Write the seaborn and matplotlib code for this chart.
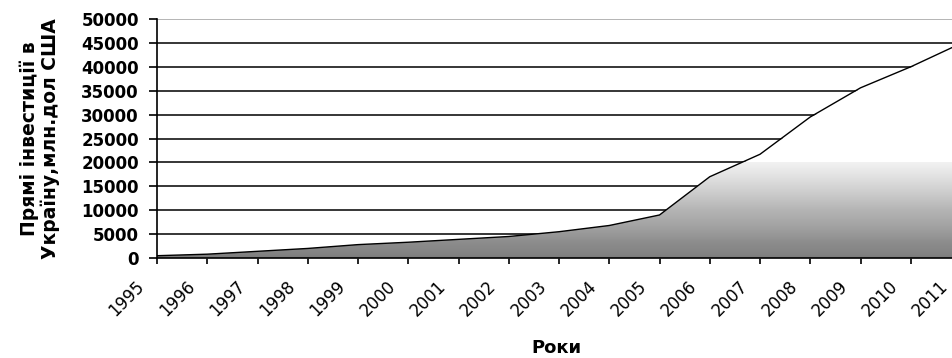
import numpy as np
import pandas as pd
import matplotlib
matplotlib.use("Agg")
import matplotlib.pyplot as plt
import matplotlib.transforms as mtransforms
import seaborn as sns
from matplotlib.colors import LinearSegmentedColormap

# дані (млн. дол США)
years = [1995, 1996, 1997, 1998, 1999, 2000, 2001, 2002, 2003,
         2004, 2005, 2006, 2007, 2008, 2009, 2010, 2011]
invest = [480, 800, 1400, 2000, 2800, 3300, 3900, 4500, 5500,
          6800, 9000, 17000, 21700, 29500, 35600, 40000, 44900]
y_ticks = list(range(0, 50001, 5000))
y_label = "Прямі інвестиції в\nУкраїну,млн.дол США"
x_label = "Роки"

df = pd.DataFrame({"year": years, "invest": invest})

sns.set_style("white")
plt.rcParams["font.family"] = ["DejaVu Sans"]
plt.rcParams["text.color"] = "black"
plt.rcParams["axes.labelcolor"] = "black"
plt.rcParams["xtick.color"] = "black"
plt.rcParams["ytick.color"] = "black"

fig = plt.figure(figsize=(9.52, 3.58), dpi=100)
W = 961 - 157
ax = fig.add_axes([157 / 952, 100 / 358, W / 952, 239 / 358])

# сітка (під заливкою)
for v in y_ticks[1:-1]:
    ax.axhline(v, color="black", lw=1.1, zorder=1)
ax.axhline(50000, color="#a0a0a0", lw=1.1, zorder=1)

# заливка: біла основа + градієнт знизу
poly = ax.fill_between(df["year"], df["invest"], 0, color="white", lw=0, zorder=1.5)
grad = np.linspace(0, 1, 256) ** 0.6
grad = grad.reshape(-1, 1)
cmap = LinearSegmentedColormap.from_list("g", ["#7a7a7a", "#8c8c8c", "#b5b5b5", "#f2f2f2"])
img = ax.imshow(grad, cmap=cmap, aspect="auto", origin="lower",
                extent=[1995, 2011, 0, 20000], zorder=1.6)
img.set_clip_path(poly.get_paths()[0], transform=ax.transData)

sns.lineplot(data=df, x="year", y="invest", ax=ax, color="black", lw=1, zorder=3)

ax.set_xlim(1995, 2011)
ax.set_ylim(0, 50000)
ax.set_xticks(years)
ax.set_xticklabels([str(y) for y in years], rotation=45, ha="right", fontsize=12)
ax.set_yticks(y_ticks)
ax.set_yticklabels([str(v) for v in y_ticks], fontsize=12, fontweight="bold")
ax.tick_params(axis="x", direction="out", length=4, width=1.2, bottom=True, pad=10)
ax.tick_params(axis="y", direction="out", length=6, width=1.2, left=True, pad=7)

# зсув підписів років трохи вліво
shift = mtransforms.ScaledTranslation(-9 / 100, 0, fig.dpi_scale_trans)
for lbl in ax.get_xticklabels():
    lbl.set_transform(lbl.get_transform() + shift)

for s in ["top", "right"]:
    ax.spines[s].set_visible(False)
for s in ["left", "bottom"]:
    ax.spines[s].set_color("black")
    ax.spines[s].set_linewidth(1.2)
    ax.spines[s].set_zorder(4)

ax.set_xlabel(x_label, fontsize=13, fontweight="bold")
ax.set_ylabel(y_label, fontsize=13.5, fontweight="bold", linespacing=1.1)
ax.xaxis.set_label_coords((556 - 157) / W, -0.339)
ax.yaxis.set_label_coords((60 - 157) / W, 0.5)

fig.savefig("out.png", dpi=100)
